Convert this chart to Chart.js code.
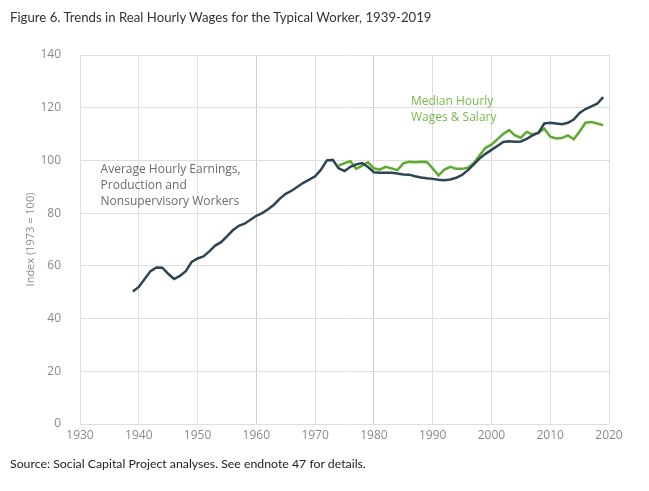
<!DOCTYPE html>
<html>
<head>
<meta charset="utf-8">
<script src="https://cdn.jsdelivr.net/npm/chart.js@4.4.1/dist/chart.umd.min.js"></script>
<style>
    html, body { margin: 0; padding: 0; background: #fff; }
    #wrap { position: relative; width: 649px; height: 491px; overflow: hidden; }
    #wageChart { position: absolute; left: 0; top: 0; }
    .title { position: absolute; left: 10px; top: 9px; font: 13.2px "Lato", sans-serif; color: #333; }
    .source { position: absolute; left: 10px; top: 456px; font: 12.3px "Lato", sans-serif; color: #222; }
</style>
</head>
<body>
<div id="wrap">
    <canvas id="wageChart" width="649" height="491"></canvas>
    <div class="title">Figure 6. Trends in Real Hourly Wages for the Typical Worker, 1939-2019</div>
    <div class="source">Source: Social Capital Project analyses. See endnote 47 for details.</div>
</div>
<script>
// Average hourly earnings, production and nonsupervisory workers (1973 = 100)
const avgYears = [];
for (let y = 1939; y <= 2019; y++) avgYears.push(y);
const avgHourly = [
    50.3, 52, 55, 58, 59.4, 59.3, 57, 55, 56.2, 58,          // 1939-1948
    61.5, 62.8, 63.6, 65.5, 67.7, 69, 71.2, 73.5, 75.2, 76,  // 1949-1958
    77.5, 79, 80, 81.5, 83.2, 85.5, 87.3, 88.5, 90, 91.5,    // 1959-1968
    92.7, 94, 96.5, 100, 100.2, 97, 96, 97.6, 98.5, 99,      // 1969-1978
    97.5, 95.5, 95.3, 95.3, 95.3, 95, 94.7, 94.6, 94, 93.5,  // 1979-1988
    93.2, 93, 92.7, 92.5, 92.8, 93.4, 94.5, 96.3, 98.5, 100.8, // 1989-1998
    102.5, 104, 105.5, 107, 107.3, 107.1, 107.2, 108.2, 109.5, 110.5, // 1999-2008
    114, 114.3, 114, 113.7, 114.3, 115.5, 118, 119.5, 120.5, 121.5, // 2009-2018
    124                                                      // 2019
];

// Median hourly wages & salary (1973 = 100)
const medYears = [];
for (let y = 1974; y <= 2019; y++) medYears.push(y);
const medHourly = [
    98, 99, 99.7, 96.8, 98, 99.3,                            // 1974-1979
    97, 96.5, 97.6, 97, 96.3, 98.9, 99.5, 99.3, 99.5, 99.4,  // 1980-1989
    97, 94.3, 96.5, 97.6, 96.8, 96.8, 97.2, 99, 102, 104.8,  // 1990-1999
    106, 108, 110, 111.5, 109.5, 108.6, 110.8, 109.9, 110.5, 112, // 2000-2009
    109, 108.3, 108.5, 109.5, 108, 111, 114.3, 114.6, 114, 113.4  // 2010-2019
];

const xTicks = [1930, 1940, 1950, 1960, 1970, 1980, 1990, 2000, 2010, 2020];
const yTicks = [0, 20, 40, 60, 80, 100, 120, 140];

const avgLabel = ["Average Hourly Earnings,", "Production and", "Nonsupervisory Workers"];
const medLabel = ["Median Hourly", "Wages & Salary"];

const DARK = "#2c4555";
const GREEN = "#5eaa2f";

function toPoints(years, values) {
    return years.map((yr, i) => ({ x: yr, y: values[i] }));
}

// Draw the two in-chart series labels
const seriesLabels = {
    id: "seriesLabels",
    afterDatasetsDraw(chart) {
        const ctx = chart.ctx;
        const xs = chart.scales.x;
        const ys = chart.scales.y;
        ctx.save();
        ctx.font = "12px 'Open Sans', sans-serif";
        ctx.textBaseline = "middle";
        ctx.fillStyle = "#6b6b6b";
        let x0 = xs.getPixelForValue(1933.5);
        let y0 = ys.getPixelForValue(96.7);
        avgLabel.forEach((t, i) => ctx.fillText(t, x0, y0 + i * 16));
        ctx.fillStyle = "#79b94c";
        x0 = xs.getPixelForValue(1986.3);
        y0 = ys.getPixelForValue(122.3);
        medLabel.forEach((t, i) => ctx.fillText(t, x0, y0 + i * 16));
        ctx.restore();
    }
};

const ctx = document.getElementById("wageChart").getContext("2d");
new Chart(ctx, {
    type: "line",
    data: {
        datasets: [
            {
                label: "Average Hourly Earnings",
                data: toPoints(avgYears, avgHourly),
                borderColor: DARK,
                borderWidth: 2.5,
                pointRadius: 0,
                tension: 0
            },
            {
                label: "Median Hourly Wages & Salary",
                data: toPoints(medYears, medHourly),
                borderColor: GREEN,
                borderWidth: 2.5,
                pointRadius: 0,
                tension: 0
            }
        ]
    },
    options: {
        responsive: false,
        animation: false,
        layout: { padding: { top: 55, left: 24, right: 40, bottom: 0 } },
        plugins: {
            legend: { display: false },
            tooltip: { enabled: false }
        },
        scales: {
            x: {
                type: "linear",
                min: 1930,
                max: 2020,
                afterBuildTicks: (scale) => { scale.ticks = xTicks.map(v => ({ value: v })); },
                ticks: {
                    callback: (v) => String(v),
                    color: "#8a8a8a",
                    font: { family: "'Open Sans', sans-serif", size: 12 },
                    padding: 4,
                    maxRotation: 0
                },
                grid: {
                    color: (c) => (c.tick && (c.tick.value === 1960 || c.tick.value === 1980)) ? "#cfcfcf" : "#dedede",
                    drawTicks: false
                },
                border: { display: false },
                afterFit: (scale) => { scale.height = 67; }
            },
            y: {
                min: 0,
                max: 140,
                afterBuildTicks: (scale) => { scale.ticks = yTicks.map(v => ({ value: v })); },
                title: {
                    display: true,
                    text: "Index (1973 = 100)",
                    color: "#8a8a8a",
                    font: { family: "'Open Sans', sans-serif", size: 11 },
                    padding: 0
                },
                ticks: {
                    color: "#8a8a8a",
                    font: { family: "'Open Sans', sans-serif", size: 12 },
                    padding: 19
                },
                grid: { color: "#dedede", drawTicks: false },
                border: { display: false },
                afterFit: (scale) => { scale.width = 56; }
            }
        }
    },
    plugins: [seriesLabels]
});
</script>
</body>
</html>
